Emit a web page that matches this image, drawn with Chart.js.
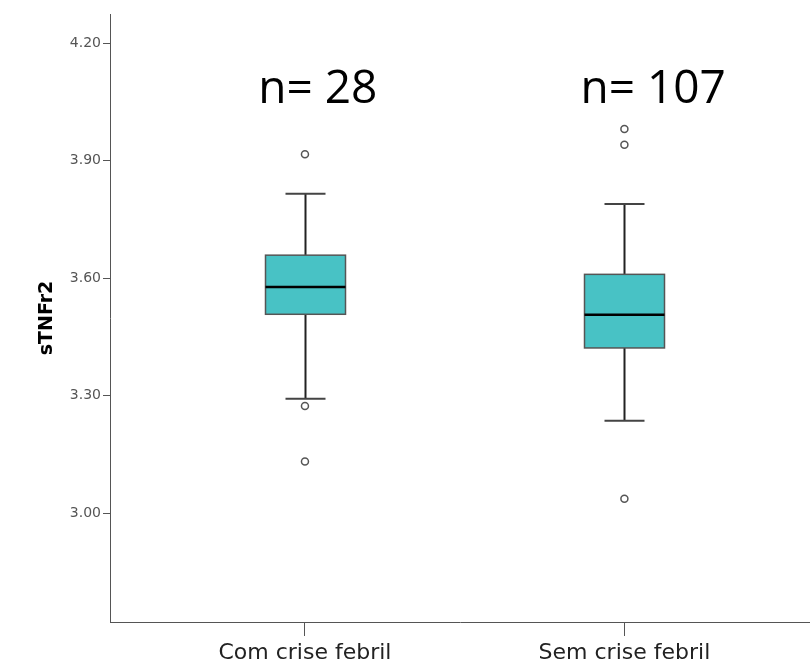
<!DOCTYPE html>
<html><head><meta charset="utf-8">
<script src="https://cdn.jsdelivr.net/npm/chart.js@4/dist/chart.umd.min.js"></script>
<style>html,body{margin:0;padding:0;background:#fff;}#wrap{width:810px;height:664px;}</style>
</head><body><div id="wrap"><canvas id="c" width="810" height="664"></canvas></div>
<script>
// ---- data ----
const categories = ['Com crise febril', 'Sem crise febril'];
const whiskerLow = [3.292, 3.236];
const q1 = [3.508, 3.422];
const median = [3.578, 3.507];
const q3 = [3.659, 3.610];
const whiskerHigh = [3.816, 3.790];
const outliersCom = [3.917, 3.274, 3.132];
const outliersSem = [3.981, 3.941, 3.037];
const sampleLabels = ['n= 28', 'n= 107'];
const yTicks = [3.00, 3.30, 3.60, 3.90, 4.20];

const outlierPoints = [
  ...outliersCom.map(v => ({x: 1, y: v})),
  ...outliersSem.map(v => ({x: 2, y: v}))
];

const boxPlugin = {
  id: 'boxes',
  beforeDatasetsDraw(chart) {
    const {ctx, scales: {x, y}} = chart;
    const half = 40, capHalf = 20;
    categories.forEach((c, i) => {
      const cx = Math.round(x.getPixelForValue(i + 1)) + 0.5;
      const yLo = y.getPixelForValue(whiskerLow[i]);
      const yHi = y.getPixelForValue(whiskerHigh[i]);
      const yQ1 = y.getPixelForValue(q1[i]);
      const yQ3 = y.getPixelForValue(q3[i]);
      const yMed = y.getPixelForValue(median[i]);
      ctx.save();
      ctx.strokeStyle = '#222';
      ctx.lineWidth = 2;
      ctx.beginPath();
      ctx.moveTo(cx, yHi); ctx.lineTo(cx, yQ3);
      ctx.moveTo(cx, yQ1); ctx.lineTo(cx, yLo);
      ctx.stroke();
      ctx.strokeStyle = '#444';
      ctx.beginPath();
      ctx.moveTo(cx - capHalf, yHi); ctx.lineTo(cx + capHalf, yHi);
      ctx.moveTo(cx - capHalf, yLo); ctx.lineTo(cx + capHalf, yLo);
      ctx.stroke();
      ctx.fillStyle = '#48C2C5';
      ctx.fillRect(cx - half, yQ3, 2 * half, yQ1 - yQ3);
      ctx.strokeStyle = '#555';
      ctx.lineWidth = 1.5;
      ctx.strokeRect(cx - half, yQ3, 2 * half, yQ1 - yQ3);
      ctx.strokeStyle = '#000';
      ctx.lineWidth = 2.5;
      ctx.beginPath();
      ctx.moveTo(cx - half, yMed); ctx.lineTo(cx + half, yMed);
      ctx.stroke();
      ctx.restore();
    });
  },
  afterDatasetsDraw(chart) {
    const {ctx, scales: {x, y}} = chart;
    const pos = [[1.04, 4.048], [2.09, 4.048]];
    ctx.save();
    ctx.font = '46px "Open Sans"';
    ctx.fillStyle = '#000';
    ctx.textAlign = 'center';
    ctx.textBaseline = 'alphabetic';
    sampleLabels.forEach((t, i) => {
      ctx.fillText(t, x.getPixelForValue(pos[i][0]), y.getPixelForValue(pos[i][1]));
    });
    ctx.restore();
  }
};

function build() {
  new Chart(document.getElementById('c'), {
    type: 'scatter',
    data: {
      datasets: [{
        data: outlierPoints,
        pointRadius: 3.5,
        pointHoverRadius: 3.5,
        pointBackgroundColor: '#fff',
        pointBorderColor: '#555',
        pointBorderWidth: 1.5
      }]
    },
    options: {
      responsive: false,
      devicePixelRatio: 1,
      animation: false,
      layout: {autoPadding: false, padding: {top: 14, left: 0, right: 0, bottom: 0}},
      plugins: {legend: {display: false}, tooltip: {enabled: false}},
      scales: {
        x: {
          type: 'linear',
          min: 0.3897,
          max: 2.581,
          afterBuildTicks: s => { s.ticks = categories.map((c, i) => ({value: i + 1})); },
          afterFit: s => { s.height = 42; s.paddingLeft = 0; s.paddingRight = 0; },
          ticks: {
            callback: v => categories[v - 1],
            autoSkip: false, maxRotation: 0,
            font: {family: 'DejaVu Sans', size: 22},
            color: '#222',
            padding: 4
          },
          grid: {drawOnChartArea: false, drawTicks: true, tickLength: 14, color: '#555'},
          border: {display: true, color: '#555', width: 1}
        },
        y: {
          type: 'linear',
          min: 2.722,
          max: 4.275,
          afterBuildTicks: s => { s.ticks = yTicks.map(v => ({value: v})); },
          afterFit: s => { s.width = 110; s.paddingTop = 0; s.paddingBottom = 0; },
          ticks: {
            callback: v => Number(v).toFixed(2),
            font: {family: 'DejaVu Sans', size: 14},
            color: '#555',
            padding: 2
          },
          grid: {drawOnChartArea: false, drawTicks: true, tickLength: 7, color: '#555'},
          border: {display: true, color: '#555', width: 1},
          title: {
            display: true,
            text: 'sTNFr2',
            font: {family: 'DejaVu Sans', size: 19, weight: 'bold'},
            color: '#000',
            padding: {top: 36, bottom: 0}
          }
        }
      }
    },
    plugins: [boxPlugin]
  });
}
Promise.all([
  document.fonts.load('46px "Open Sans"'),
  document.fonts.load('22px "DejaVu Sans"'),
  document.fonts.load('bold 19px "DejaVu Sans"')
]).then(build, build);
</script></body></html>
